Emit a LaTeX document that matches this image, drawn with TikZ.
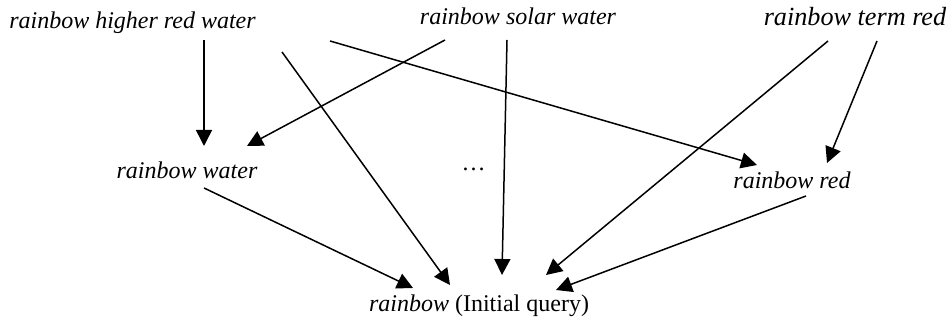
\documentclass[tikz,border=0pt]{standalone}
\usepackage{fontspec}
\setmainfont{Liberation Serif}
\usepackage{tikz}
\usetikzlibrary{arrows.meta}
\tikzset{
  qnode/.style={inner sep=0pt,anchor=base,font=\fontsize{12}{14}\selectfont\itshape},
  bignode/.style={qnode,font=\fontsize{13.1}{15}\selectfont\itshape},
  arr/.style={-{Triangle[length=8pt,width=8pt]},line width=0.75pt,color=black}
}
\begin{document}
\begin{tikzpicture}[x=0.5pt,y=-0.5pt]
  \useasboundingbox (0,0) rectangle (952,324);

  % Query terms
  \node[qnode]  (hrw)  at (132.5,29) {rainbow higher red water};
  \node[qnode]  (sw)   at (518,25)   {rainbow solar water};
  \node[bignode] (tr)  at (855,26)   {rainbow term red};
  \node[qnode]  (rw)   at (187,179)  {rainbow water};
  \node[qnode,font=\fontsize{12}{14}\selectfont] (dots) at (473.5,171) {\dots};
  \node[qnode]  (rr)   at (792,189)  {rainbow red};
  \node[qnode]  (iq)   at (479,312)  {rainbow \upshape(Initial query)};

  % Links
  \draw[arr] ([shift={(71.5,11)}]hrw.base) -- ([shift={(17,-33)}]rw.base);
  \draw[arr] ([shift={(-73,15)}]sw.base)   -- ([shift={(60,-33)}]rw.base);
  \draw[arr] ([shift={(149.5,23)}]hrw.base) -- ([shift={(-29,-27)}]iq.base);
  \draw[arr] ([shift={(197.5,12)}]hrw.base) -- ([shift={(-35,-24)}]rr.base);
  \draw[arr] ([shift={(-11,15)}]sw.base)   -- ([shift={(23,-37)}]iq.base);
  \draw[arr] ([shift={(-27,15)}]tr.base)   -- ([shift={(67,-37)}]iq.base);
  \draw[arr] ([shift={(22,15)}]tr.base)    -- ([shift={(35,-26)}]rr.base);
  \draw[arr] ([shift={(14,7)}]rr.base)     -- ([shift={(77,-22)}]iq.base);
  \draw[arr] ([shift={(17,9)}]rw.base)     -- ([shift={(-66,-24)}]iq.base);

\end{tikzpicture}
\end{document}
